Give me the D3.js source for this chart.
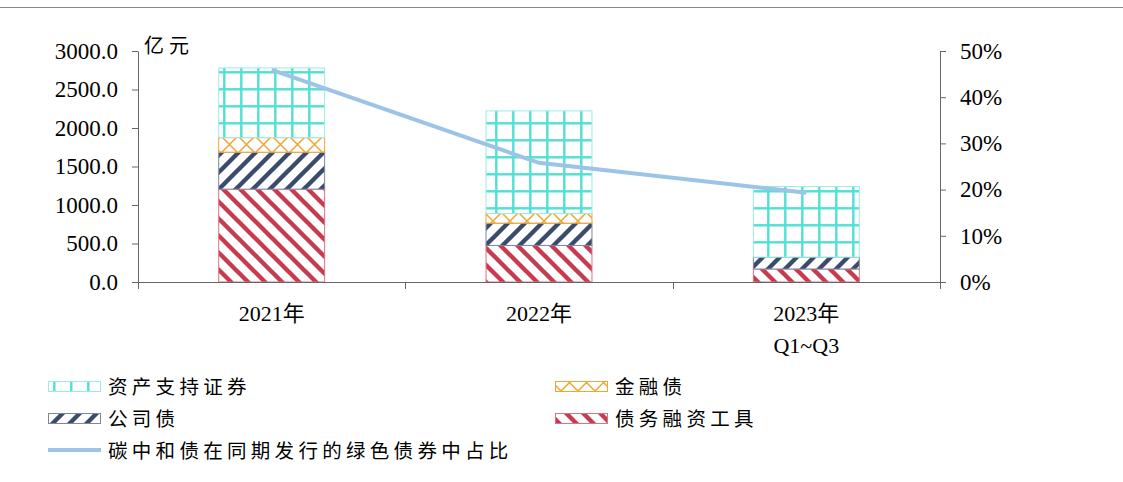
<!DOCTYPE html>
<html>
<head>
<meta charset="utf-8">
<script src="https://cdn.jsdelivr.net/npm/d3@7"></script>
<style>
  html, body { margin: 0; padding: 0; background: #fff; }
  svg { display: block; }
</style>
</head>
<body>
<svg id="chart" width="1123" height="482"></svg>
<script>
// ---- data (亿元 / share) ----
const categories = ["2021年", "2022年", "2023年 Q1~Q3"];
const categoryLines = [["2021年"], ["2022年"], ["2023年", "Q1~Q3"]];
const dfiValues  = [1206, 475, 169];   // 债务融资工具
const corpValues = [480, 290, 155];    // 公司债
const finValues  = [189, 125, 0];      // 金融债
const absValues  = [905, 1332, 916];   // 资产支持证券
const greenShare = [0.459, 0.258, 0.193]; // 碳中和债在同期发行的绿色债券中占比
const leftTicks  = [0, 500, 1000, 1500, 2000, 2500, 3000];
const rightTicks = [0, 0.1, 0.2, 0.3, 0.4, 0.5];

const seriesNames = {
  dfi: "债务融资工具", corp: "公司债", fin: "金融债", abs: "资产支持证券"
};
const lineName = "碳中和债在同期发行的绿色债券中占比";
const unitLabel = "亿元";

const rows = categories.map((c, i) => ({
  cat: c, dfi: dfiValues[i], corp: corpValues[i], fin: finValues[i], abs: absValues[i]
}));

// ---- layout ----
const W = 1123, H = 482;
const plot = { left: 138, right: 940, top: 51, bottom: 282 };
const numFont = "'Liberation Serif', 'Times New Roman', 'Noto Sans CJK SC', serif";
const cjkFont = "'Noto Sans CJK SC', 'Noto Sans', sans-serif";
const axisColor = "#666";

const svg = d3.select("#chart");
svg.append("rect").attr("width", W).attr("height", H).attr("fill", "#fff");

// thin rule across the top
svg.append("line")
  .attr("x1", 0).attr("x2", W).attr("y1", 7.5).attr("y2", 7.5)
  .attr("stroke", "#888").attr("stroke-width", 1);

// ---- fill patterns ----
const defs = svg.append("defs");
const P = 17;

function makePattern(id) {
  const p = defs.append("pattern")
    .attr("id", id).attr("patternUnits", "userSpaceOnUse")
    .attr("width", P).attr("height", P);
  p.append("rect").attr("width", P).attr("height", P).attr("fill", "#fff");
  return p;
}

// grid (资产支持证券)
const gridColor = "#52DFD4";
const pGrid = makePattern("pGrid");
pGrid.append("rect").attr("x", 2.1).attr("y", 0).attr("width", 2.4).attr("height", P).attr("fill", gridColor);
pGrid.append("rect").attr("x", 0).attr("y", 3.1).attr("width", P).attr("height", 2.4).attr("fill", gridColor);

// diamond lattice (金融债)
const finColor = "#F2A530";
const pLattice = makePattern("pLattice");
pLattice.append("path")
  .attr("d", `M0,0L${P},${P}M0,${P}L${P},0`)
  .attr("stroke", finColor).attr("stroke-width", 1.5).attr("fill", "none");

// "/" stripes (公司债)
const corpColor = "#3B4B6E";
const pSlash = makePattern("pSlash");
pSlash.append("path")
  .attr("d", `M-4,${P + 4}L${P + 4},-4M${-4 - P},${P + 4}L4,-4M${P - 4},${P + 4}L${2 * P + 4},-4`)
  .attr("stroke", corpColor).attr("stroke-width", 4.4).attr("fill", "none");

// "\" stripes (债务融资工具)
const dfiColor = "#C93A4E";
const pBack = makePattern("pBack");
pBack.append("path")
  .attr("d", `M-4,-4L${P + 4},${P + 4}M${-4 - P},-4L4,${P + 4}M${P - 4},-4L${2 * P + 4},${P + 4}`)
  .attr("stroke", dfiColor).attr("stroke-width", 4.4).attr("fill", "none");

const styles = {
  dfi:  { fill: "url(#pBack)",    stroke: "#D9737F" },
  corp: { fill: "url(#pSlash)",   stroke: "#7C86A0" },
  fin:  { fill: "url(#pLattice)", stroke: "#F2A530" },
  abs:  { fill: "url(#pGrid)",    stroke: "#9BEBE4" }
};

// ---- scales ----
const x = d3.scaleBand()
  .domain(categories)
  .range([plot.left, plot.right])
  .paddingInner(0.6).paddingOuter(0.3);
const y = d3.scaleLinear().domain([0, 3000]).range([plot.bottom, plot.top]);
const yR = d3.scaleLinear().domain([0, 0.5]).range([plot.bottom, plot.top]);

// ---- stacked bars ----
const keys = ["dfi", "corp", "fin", "abs"];
const stacked = d3.stack().keys(keys)(rows);

const gBars = svg.append("g");
stacked.forEach(layer => {
  const k = layer.key;
  gBars.selectAll(null)
    .data(layer.filter(d => d[1] - d[0] > 0))
    .join("rect")
    .attr("x", d => x(d.data.cat) + 0.5)
    .attr("y", d => y(d[1]))
    .attr("width", x.bandwidth() - 1)
    .attr("height", d => y(d[0]) - y(d[1]))
    .attr("fill", styles[k].fill)
    .attr("stroke", styles[k].stroke)
    .attr("stroke-width", 1);
});

// ---- axes ----
const gLeft = svg.append("g").attr("transform", `translate(${plot.left},0)`)
  .call(d3.axisLeft(y).tickValues(leftTicks).tickFormat(d3.format(".1f"))
    .tickSize(6).tickSizeOuter(0).tickPadding(14));
const gRight = svg.append("g").attr("transform", `translate(${plot.right},0)`)
  .call(d3.axisRight(yR).tickValues(rightTicks).tickFormat(d3.format(".0%"))
    .tickSize(6).tickSizeOuter(0).tickPadding(14));

[gLeft, gRight].forEach(g => {
  g.selectAll("path, line").attr("stroke", axisColor);
  g.selectAll("text")
    .attr("font-family", numFont).attr("font-size", 23).attr("fill", "#000");
});

// category axis: baseline with ticks at band boundaries
const step = x.step();
const start = x(categories[0]) - step * x.paddingInner() / 2;
const boundaries = d3.range(categories.length + 1).map(i => start + i * step);
const gBottom = svg.append("g");
gBottom.append("line")
  .attr("x1", plot.left).attr("x2", plot.right)
  .attr("y1", plot.bottom + 0.5).attr("y2", plot.bottom + 0.5)
  .attr("stroke", axisColor);
gBottom.selectAll(".btick").data(boundaries).join("line")
  .attr("x1", d => Math.round(d) + 0.5).attr("x2", d => Math.round(d) + 0.5)
  .attr("y1", plot.bottom).attr("y2", plot.bottom + 7)
  .attr("stroke", axisColor);

const catLabels = gBottom.selectAll(".clab").data(categories).join("text")
  .attr("text-anchor", "middle")
  .attr("font-family", numFont).attr("font-size", 22).attr("fill", "#000");
catLabels.each(function (c, i) {
  const t = d3.select(this);
  categoryLines[i].forEach((ln, j) => {
    t.append("tspan")
      .attr("x", x(c) + x.bandwidth() / 2)
      .attr("y", 321 + j * 32)
      .text(ln);
  });
});

// unit label
svg.append("text")
  .attr("x", 144).attr("y", 53)
  .attr("font-family", cjkFont).attr("font-size", 20)
  .attr("letter-spacing", 5).attr("fill", "#000")
  .text(unitLabel);

// ---- share line ----
const lineColor = "#9DC3E6";
const line = d3.line()
  .x((d, i) => x(categories[i]) + x.bandwidth() / 2)
  .y(d => yR(d));
svg.append("path")
  .datum(greenShare)
  .attr("d", line)
  .attr("fill", "none")
  .attr("stroke", lineColor)
  .attr("stroke-width", 4);

// ---- legend ----
const legendItems = [
  { key: "abs",  x: 48,  y: 381 },
  { key: "fin",  x: 555, y: 381 },
  { key: "corp", x: 48,  y: 413 },
  { key: "dfi",  x: 555, y: 413 }
];
const gLeg = svg.append("g");
legendItems.forEach(it => {
  gLeg.append("rect")
    .attr("x", it.x + 0.5).attr("y", it.y + 0.5)
    .attr("width", 52).attr("height", 10)
    .attr("fill", styles[it.key].fill)
    .attr("stroke", styles[it.key].stroke);
  gLeg.append("text")
    .attr("x", it.x + 60).attr("y", it.y + 13)
    .attr("font-family", cjkFont).attr("font-size", 19.5)
    .attr("letter-spacing", 4.3).attr("fill", "#000")
    .text(seriesNames[it.key]);
});
gLeg.append("line")
  .attr("x1", 48).attr("x2", 101).attr("y1", 450).attr("y2", 450)
  .attr("stroke", lineColor).attr("stroke-width", 4);
gLeg.append("text")
  .attr("x", 108).attr("y", 458)
  .attr("font-family", cjkFont).attr("font-size", 19.5)
  .attr("letter-spacing", 4.3).attr("fill", "#000")
  .text(lineName);
</script>
</body>
</html>
